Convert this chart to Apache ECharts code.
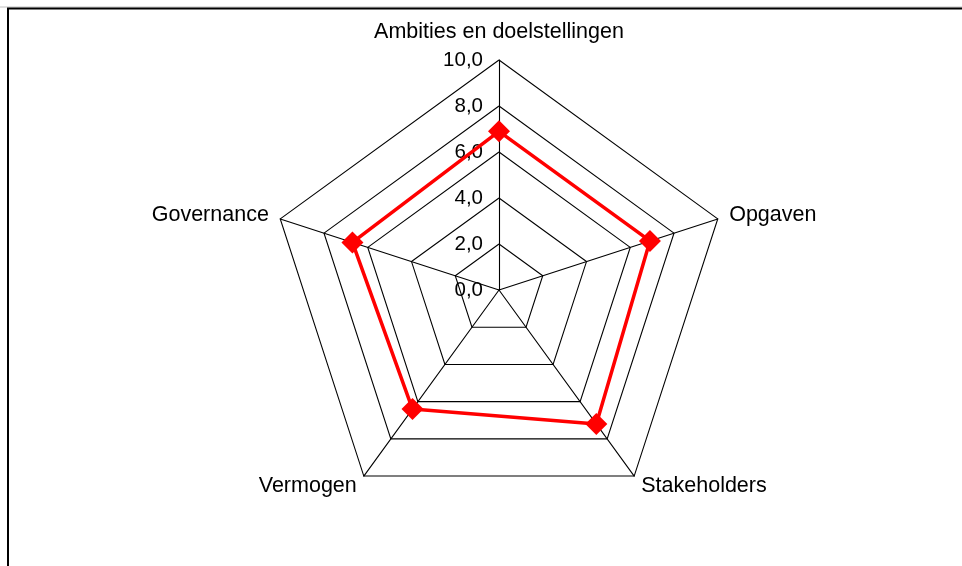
<!DOCTYPE html>
<html>
<head>
<meta charset="utf-8">
<script src="https://cdn.jsdelivr.net/npm/echarts@6/dist/echarts.min.js"></script>
<style>
html,body{margin:0;padding:0;background:#fff;}
#c{width:962px;height:566px;}
</style>
</head>
<body>
<div id="c"></div>
<script>
// Clockwise order, starting at the top
var categories = ['Ambities en doelstellingen', 'Opgaven', 'Stakeholders', 'Vermogen', 'Governance'];
var scores = [6.9, 6.9, 7.2, 6.4, 6.7];
var maxValue = 10;
var tickLabels = ['0,0', '2,0', '4,0', '6,0', '8,0', '10,0'];

var FONT = '"Liberation Sans", Arial, sans-serif';
var chart = echarts.init(document.getElementById('c'), null, {renderer: 'canvas'});

// ECharts radar runs counter-clockwise: reorder so the picture runs clockwise
var order = [0, 4, 3, 2, 1];
var indicators = order.map(function (k, i) {
  var ind = {name: categories[k], max: maxValue, min: 0};
  if (i === 0) {
    ind.axisLabel = {
      show: true,
      color: '#000',
      fontSize: 20.5,
      fontFamily: FONT,
      margin: 16,
      formatter: function (v) { return tickLabels[Math.round(v / 2)]; }
    };
  }
  return ind;
});
var values = order.map(function (k) { return scores[k]; });

chart.setOption({
  animation: false,
  backgroundColor: '#fff',
  graphic: [
    {type: 'line', shape: {x1: 0, y1: 7, x2: 962, y2: 7}, style: {stroke: '#c0c0c0', lineWidth: 1}, silent: true},
    {type: 'line', shape: {x1: 7, y1: 8.5, x2: 962, y2: 8.5}, style: {stroke: '#000', lineWidth: 2}, silent: true},
    {type: 'line', shape: {x1: 8, y1: 8, x2: 8, y2: 566}, style: {stroke: '#000', lineWidth: 2}, silent: true}
  ],
  radar: {
    center: [499, 290],
    radius: 230,
    startAngle: 90,
    splitNumber: 5,
    shape: 'polygon',
    nameGap: 12,
    axisName: {
      color: '#000',
      fontSize: 21.5,
      fontFamily: FONT,
      formatter: function (name) {
        return name === categories[0] ? '{t|' + name + '}' : name;
      },
      rich: {
        t: {fontSize: 21.5, fontFamily: FONT, color: '#000', padding: [0, 0, 5, 0]}
      }
    },
    indicator: indicators,
    axisLine: {show: true, lineStyle: {color: '#000', width: 1.1}},
    splitLine: {show: true, lineStyle: {color: '#000', width: 1.1}},
    splitArea: {show: false},
    axisTick: {show: false},
    axisLabel: {show: false}
  },
  series: [{
    type: 'radar',
    symbol: 'diamond',
    symbolSize: 22,
    lineStyle: {color: '#ff0000', width: 3.5},
    itemStyle: {color: '#ff0000'},
    data: [{value: values, name: 'Score'}]
  }]
});
</script>
</body>
</html>
